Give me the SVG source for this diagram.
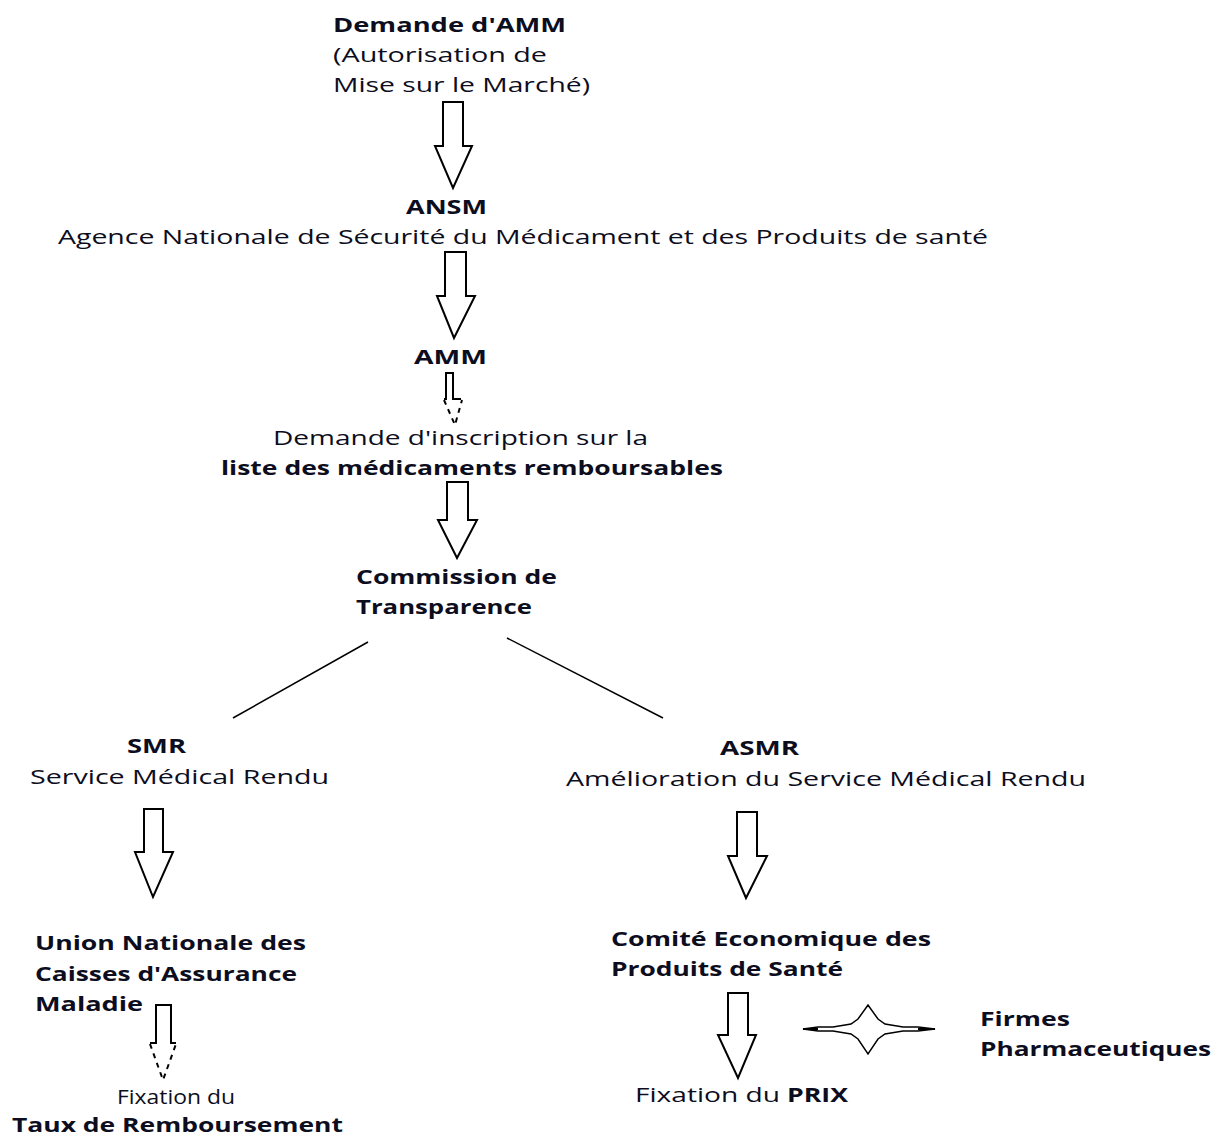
<svg xmlns="http://www.w3.org/2000/svg" width="1226" height="1138" viewBox="0 0 1226 1138">
<style>
text{font-family:"Open Sans","DejaVu Sans",sans-serif;font-size:20px;fill:#0d0d20}
.b{font-weight:bold}
.arr{fill:#fff;stroke:#000;stroke-width:2;stroke-linejoin:miter}
.ln{fill:none;stroke:#000;stroke-width:1.5}
.dash{fill:none;stroke:#000;stroke-width:2;stroke-dasharray:5 5}
</style>
<rect width="1226" height="1138" fill="#fff"/>
<g id="n-demande-amm">
<text class="b" x="333" y="32" textLength="233" lengthAdjust="spacingAndGlyphs">Demande d'AMM</text>
<text x="333" y="62" textLength="214" lengthAdjust="spacingAndGlyphs">(Autorisation de</text>
<text x="333" y="92" textLength="257" lengthAdjust="spacingAndGlyphs">Mise sur le Marché)</text>
</g>
<g id="n-ansm">
<text class="b" x="406" y="214" textLength="81" lengthAdjust="spacingAndGlyphs">ANSM</text>
<text x="58" y="244" textLength="930" lengthAdjust="spacingAndGlyphs">Agence Nationale de Sécurité du Médicament et des Produits de santé</text>
</g>
<g id="n-amm">
<text class="b" x="414" y="364" textLength="73" lengthAdjust="spacingAndGlyphs">AMM</text>
</g>
<g id="n-inscription">
<text x="273" y="445" textLength="375" lengthAdjust="spacingAndGlyphs">Demande d'inscription sur la</text>
<text class="b" x="221" y="475" textLength="502" lengthAdjust="spacingAndGlyphs">liste des médicaments remboursables</text>
</g>
<g id="n-commission">
<text class="b" x="356" y="584" textLength="201" lengthAdjust="spacingAndGlyphs">Commission de</text>
<text class="b" x="356" y="614" textLength="176" lengthAdjust="spacingAndGlyphs">Transparence</text>
</g>
<g id="n-smr">
<text class="b" x="127" y="753" textLength="59" lengthAdjust="spacingAndGlyphs">SMR</text>
<text x="30" y="784" textLength="299" lengthAdjust="spacingAndGlyphs">Service Médical Rendu</text>
</g>
<g id="n-asmr">
<text class="b" x="720" y="755" textLength="79" lengthAdjust="spacingAndGlyphs">ASMR</text>
<text x="566" y="786" textLength="520" lengthAdjust="spacingAndGlyphs">Amélioration du Service Médical Rendu</text>
</g>
<g id="n-uncam">
<text class="b" x="35" y="950" textLength="271" lengthAdjust="spacingAndGlyphs">Union Nationale des</text>
<text class="b" x="35" y="981" textLength="262" lengthAdjust="spacingAndGlyphs">Caisses d'Assurance</text>
<text class="b" x="35" y="1011" textLength="108" lengthAdjust="spacingAndGlyphs">Maladie</text>
</g>
<g id="n-taux">
<text x="117" y="1104" textLength="118" lengthAdjust="spacingAndGlyphs">Fixation du</text>
<text class="b" x="12" y="1132" textLength="331" lengthAdjust="spacingAndGlyphs">Taux de Remboursement</text>
</g>
<g id="n-ceps">
<text class="b" x="611" y="946" textLength="320" lengthAdjust="spacingAndGlyphs">Comité Economique des</text>
<text class="b" x="611" y="976" textLength="232" lengthAdjust="spacingAndGlyphs">Produits de Santé</text>
</g>
<g id="n-prix">
<text x="635" y="1102" textLength="145" lengthAdjust="spacingAndGlyphs">Fixation du</text>
<text class="b" x="787" y="1102" textLength="61" lengthAdjust="spacingAndGlyphs">PRIX</text>
</g>
<g id="n-firmes">
<text class="b" x="980" y="1026" textLength="90" lengthAdjust="spacingAndGlyphs">Firmes</text>
<text class="b" x="980" y="1056" textLength="231" lengthAdjust="spacingAndGlyphs">Pharmaceutiques</text>
</g>
<g id="connectors">
<path class="arr" d="M443,102 H463 V146 H472 L453,188 L435,146 H443 Z"/>
<path class="arr" d="M445,252 H466 V296 H475 L454,338 L437,296 H445 Z"/>
<polyline class="ln" style="stroke-width:2" points="444,399 446,399 446,373 453,373 453,399 461,399"/>
<polyline class="dash" points="444,400 455,425 462,400"/>
<path class="arr" d="M447,482 H468 V520 H477 L457,558 L438,520 H447 Z"/>
<line class="ln" x1="233" y1="718" x2="368" y2="642"/>
<line class="ln" x1="507" y1="638" x2="663" y2="718"/>
<path class="arr" d="M144,809 H163 V852 H173 L153,897 L135,852 H144 Z"/>
<path class="arr" d="M737,812 H757 V856 H767 L746,898 L728,856 H737 Z"/>
<polyline class="ln" style="stroke-width:2" points="150,1043 156,1043 156,1005 171,1005 171,1043 176,1043"/>
<polyline class="dash" points="150,1044 163,1080 176,1044"/>
<path class="arr" d="M728,993 H748 V1035 H756 L738,1078 L718,1035 H728 Z"/>
<path class="arr" style="stroke-width:1.5" d="M803,1029 L818,1027 L833,1027 L851,1024 L858,1019 L868,1005 L878,1019 L885,1024 L903,1027 L918,1027 L935,1029 L918,1031 L903,1031 L885,1034 L878,1039 L868,1054 L858,1039 L851,1034 L833,1031 L818,1031 Z"/>
<line class="ln" x1="803" y1="1029" x2="818" y2="1029" style="stroke-width:2"/>
<line class="ln" x1="918" y1="1029" x2="935" y2="1029" style="stroke-width:2"/>
</g>
</svg>
